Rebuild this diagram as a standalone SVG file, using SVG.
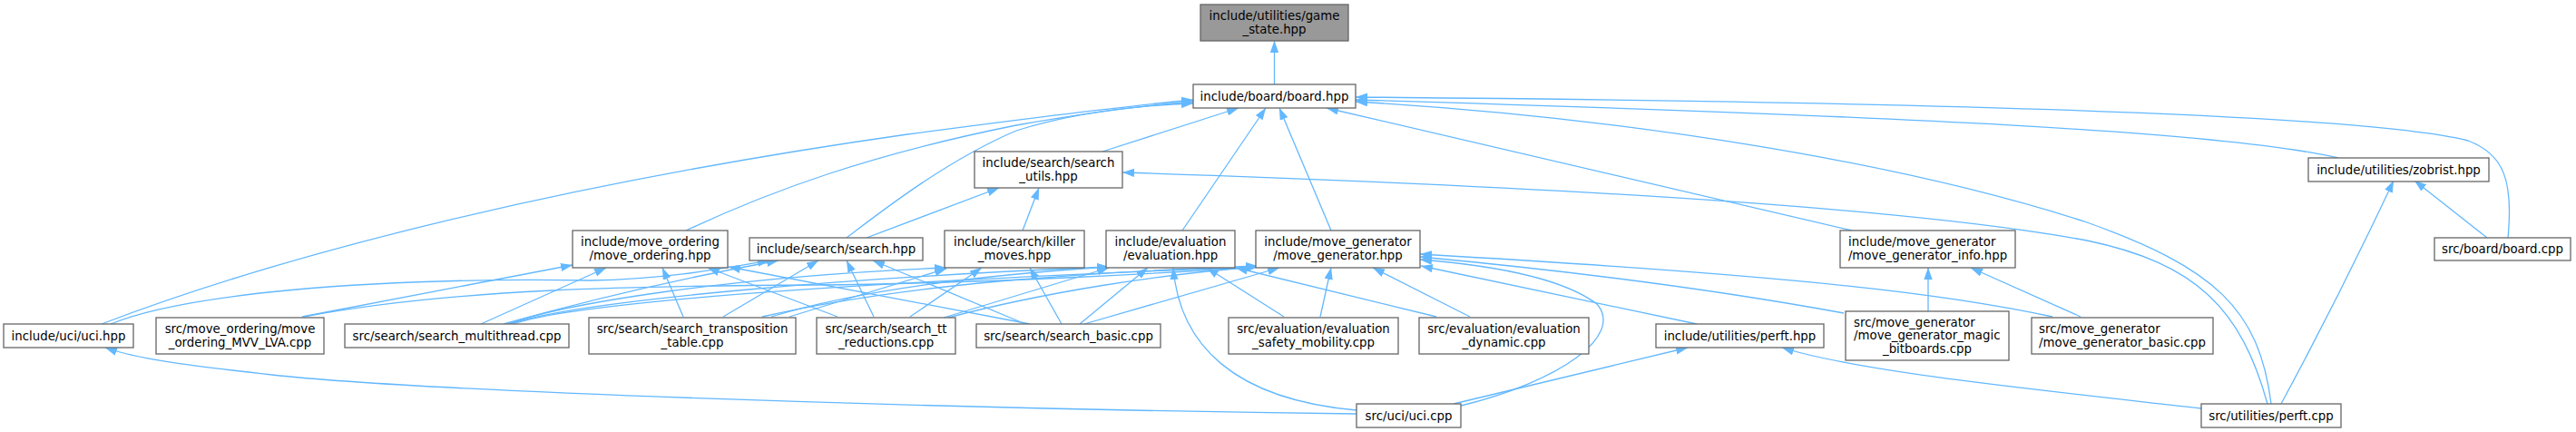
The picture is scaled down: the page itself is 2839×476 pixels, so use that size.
<svg xmlns="http://www.w3.org/2000/svg" width="2839" height="476" viewBox="0 0 2839 476">
<style>
.n rect{fill:#ffffff;stroke:#666666;stroke-width:1.3}
.root rect{fill:#999999;stroke:#666666;stroke-width:1.3}
text{font-family:"DejaVu Sans","Liberation Sans",sans-serif;font-size:13.33px;fill:#000000}
.m{text-anchor:middle}
.s{text-anchor:start}
#edges path{fill:none;stroke:#63b8ff;stroke-width:1.3;marker-end:url(#ah)}
</style>
<defs>
<marker id="ah" viewBox="0 0 13.3 9.3" refX="13" refY="4.65" markerWidth="13.3" markerHeight="9.3" markerUnits="userSpaceOnUse" orient="auto">
<path d="M0,0 L13.3,4.65 L0,9.3 z" fill="#63b8ff"/>
</marker>
</defs>
<rect width="2839" height="476" fill="#ffffff"/>
<g id="edges">
<path d="M1404.5,93 L1404.5,45"/>
<path d="M112,357 C300,285 600,205 1000,148 C1150,128 1250,116 1315,110"/>
<path d="M756,254 C850,210 960,170 1120,138 C1200,124 1260,116 1315,112"/>
<path d="M933,262 C965,238 1040,178 1120,144 C1190,122 1260,116 1315,114"/>
<path d="M1215,167 L1365,119"/>
<path d="M1303,254 L1395,119"/>
<path d="M1467,254 L1410,119"/>
<path d="M2041,254 L1462,119"/>
<path d="M2577,174 C2450,145 2100,128 1494,110"/>
<path d="M2764,262 C2770,200 2760,170 2720,155 C2600,125 2100,112 1494,107"/>
<path d="M2503,445 C2490,340 2440,295 2300,245 C2100,180 1800,130 1494,112"/>
<path d="M955,262 L1101,207"/>
<path d="M1127,254 L1145,207"/>
<path d="M2499,445 C2470,340 2420,290 2300,265 C2100,228 1700,205 1237,190"/>
<path d="M2514,445 C2560,360 2600,280 2638,199"/>
<path d="M2741,262 L2661,199"/>
<path d="M2125,343 L2125,295"/>
<path d="M2293,349 L2172,295"/>
<path d="M2426,450 C2250,430 2050,410 1964,383"/>
<path d="M1602,445 L1860,383"/>
<path d="M1495,456 C1000,450 450,430 300,413 C200,402 150,395 116,383"/>
<path d="M1495,452 C1360,440 1300,380 1293,295"/>
<path d="M1610,447 C1720,420 1790,370 1760,335 C1720,305 1640,292 1565,286"/>
<path d="M1870,357 L1566,293"/>
<path d="M2032,345 C1950,330 1800,305 1565,283"/>
<path d="M2262,349 C2150,325 2000,305 1565,280"/>
<path d="M1455,349 L1467,295"/>
<path d="M1620,349 L1513,295"/>
<path d="M1415,349 L1330,295"/>
<path d="M1583,349 L1362,295"/>
<path d="M333,349 L631,292"/>
<path d="M530,357 L668,295"/>
<path d="M753,349 L730,295"/>
<path d="M923,349 L780,295"/>
<path d="M1135,357 L803,294"/>
<path d="M797,349 L902,287"/>
<path d="M963,349 L933,287"/>
<path d="M1130,357 L962,287"/>
<path d="M555,357 C650,330 760,305 858,287"/>
<path d="M122,357 C200,325 400,305 650,309 C730,308 790,297 848,287"/>
<path d="M560,357 C620,335 800,305 1043,295"/>
<path d="M562,357 C640,330 950,305 1222,294"/>
<path d="M565,357 C660,325 1100,305 1386,294"/>
<path d="M870,349 L1043,296"/>
<path d="M850,349 C950,318 1100,302 1222,294"/>
<path d="M840,349 C1000,312 1200,300 1386,293"/>
<path d="M1003,349 L1082,295"/>
<path d="M1040,350 L1222,295"/>
<path d="M1045,350 C1150,322 1280,302 1386,294"/>
<path d="M1170,357 L1135,295"/>
<path d="M1190,357 L1265,295"/>
<path d="M1195,357 L1410,295"/>
<path d="M335,349 C500,318 700,315 900,314 C1100,312 1300,300 1386,294"/>
</g>
<g id="game_state" class="root"><rect x="1323" y="5" width="163" height="40"/><text class="m" x="1404.5" y="22">include/utilities/game</text><text class="m" x="1404.5" y="36.7">_state.hpp</text></g>
<g id="board_hpp" class="n"><rect x="1315" y="93" width="179" height="26"/><text class="m" x="1404.5" y="110.5">include/board/board.hpp</text></g>
<g id="search_utils" class="n"><rect x="1074" y="167" width="163" height="40"/><text class="m" x="1155.5" y="184">include/search/search</text><text class="m" x="1155.5" y="198.7">_utils.hpp</text></g>
<g id="zobrist" class="n"><rect x="2544" y="174" width="199" height="26"/><text class="m" x="2643.5" y="191.5">include/utilities/zobrist.hpp</text></g>
<g id="move_ordering_hpp" class="n"><rect x="631" y="254" width="171" height="41"/><text class="m" x="716.5" y="271">include/move_ordering</text><text class="m" x="716.5" y="285.7">/move_ordering.hpp</text></g>
<g id="search_hpp" class="n"><rect x="826" y="262" width="191" height="25"/><text class="m" x="921.5" y="279">include/search/search.hpp</text></g>
<g id="killer_moves" class="n"><rect x="1041" y="254" width="154" height="41"/><text class="m" x="1118" y="271">include/search/killer</text><text class="m" x="1118" y="285.7">_moves.hpp</text></g>
<g id="evaluation_hpp" class="n"><rect x="1219" y="254" width="142" height="41"/><text class="m" x="1290" y="271">include/evaluation</text><text class="m" x="1290" y="285.7">/evaluation.hpp</text></g>
<g id="move_generator_hpp" class="n"><rect x="1384" y="254" width="181" height="41"/><text class="m" x="1474.5" y="271">include/move_generator</text><text class="m" x="1474.5" y="285.7">/move_generator.hpp</text></g>
<g id="move_generator_info" class="n"><rect x="2028" y="254" width="193" height="41"/><text class="s" x="2037" y="271">include/move_generator</text><text class="m" x="2124.5" y="285.7">/move_generator_info.hpp</text></g>
<g id="board_cpp" class="n"><rect x="2683" y="262" width="150" height="25"/><text class="m" x="2758" y="279">src/board/board.cpp</text></g>
<g id="uci_hpp" class="n"><rect x="4" y="357" width="143" height="26"/><text class="m" x="75.5" y="374.5">include/uci/uci.hpp</text></g>
<g id="mvv_lva" class="n"><rect x="172" y="350" width="185" height="40"/><text class="m" x="264.5" y="367">src/move_ordering/move</text><text class="m" x="264.5" y="381.7">_ordering_MVV_LVA.cpp</text></g>
<g id="search_multithread" class="n"><rect x="380" y="357" width="247" height="26"/><text class="m" x="503.5" y="374.5">src/search/search_multithread.cpp</text></g>
<g id="search_transposition" class="n"><rect x="649" y="350" width="228" height="40"/><text class="m" x="763" y="367">src/search/search_transposition</text><text class="m" x="763" y="381.7">_table.cpp</text></g>
<g id="search_tt" class="n"><rect x="900" y="350" width="153" height="40"/><text class="m" x="976.5" y="367">src/search/search_tt</text><text class="m" x="976.5" y="381.7">_reductions.cpp</text></g>
<g id="search_basic" class="n"><rect x="1076" y="357" width="203" height="26"/><text class="m" x="1177.5" y="374.5">src/search/search_basic.cpp</text></g>
<g id="eval_safety" class="n"><rect x="1354" y="350" width="187" height="40"/><text class="m" x="1447.5" y="367">src/evaluation/evaluation</text><text class="m" x="1447.5" y="381.7">_safety_mobility.cpp</text></g>
<g id="eval_dynamic" class="n"><rect x="1564" y="350" width="187" height="40"/><text class="m" x="1657.5" y="367">src/evaluation/evaluation</text><text class="m" x="1657.5" y="381.7">_dynamic.cpp</text></g>
<g id="perft_hpp" class="n"><rect x="1825" y="357" width="185" height="26"/><text class="m" x="1917.5" y="374.5">include/utilities/perft.hpp</text></g>
<g id="mg_magic" class="n"><rect x="2034" y="343" width="180" height="54"/><text class="s" x="2043" y="359.5">src/move_generator</text><text class="s" x="2043" y="374">/move_generator_magic</text><text class="m" x="2124" y="388.5">_bitboards.cpp</text></g>
<g id="mg_basic" class="n"><rect x="2239" y="350" width="200" height="40"/><text class="s" x="2247" y="367">src/move_generator</text><text class="m" x="2339" y="381.7">/move_generator_basic.cpp</text></g>
<g id="uci_cpp" class="n"><rect x="1495" y="445" width="115" height="26"/><text class="m" x="1552.5" y="462.5">src/uci/uci.cpp</text></g>
<g id="perft_cpp" class="n"><rect x="2426" y="445" width="154" height="26"/><text class="m" x="2503" y="462.5">src/utilities/perft.cpp</text></g>
</svg>
